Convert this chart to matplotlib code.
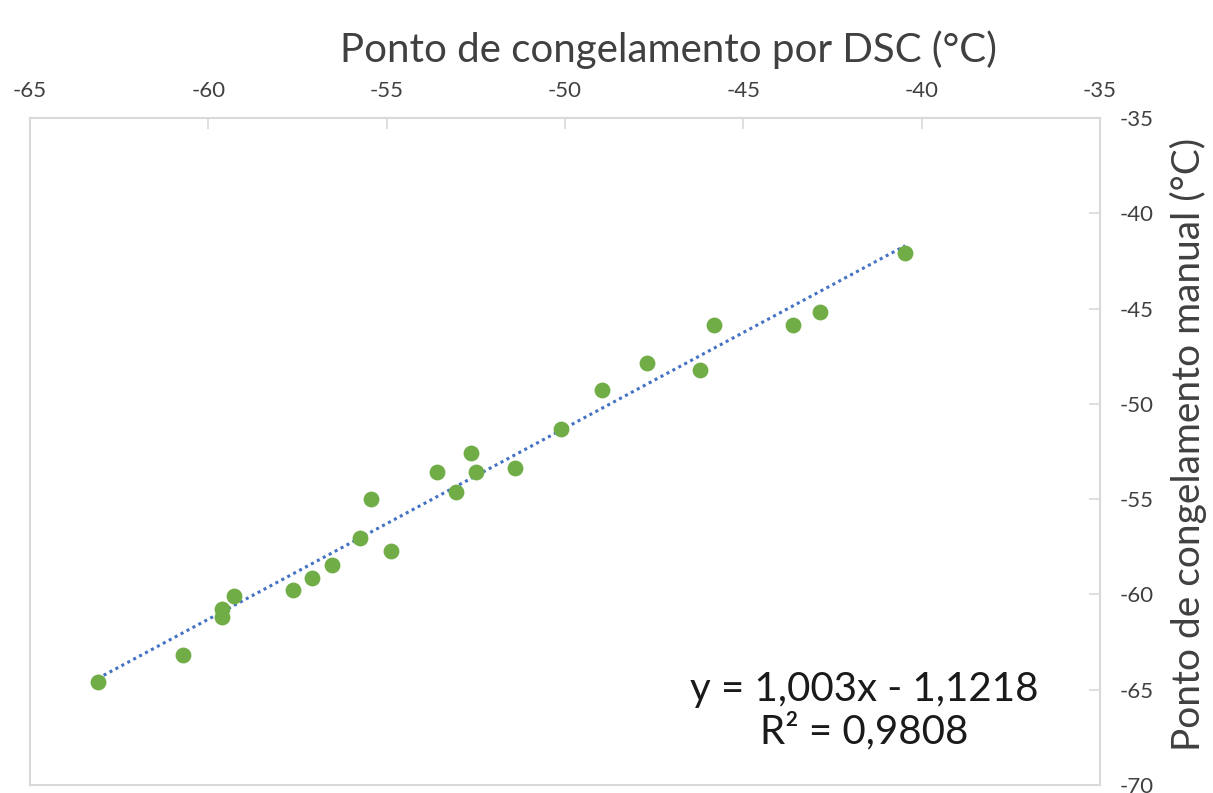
import matplotlib.pyplot as plt
import numpy as np

# dados (ponto de congelamento, °C)
dsc = [-63.10, -60.70, -59.61, -59.61, -59.27, -57.62, -57.08, -56.53,
       -55.76, -55.44, -54.88, -53.60, -53.05, -52.64, -52.49, -51.40,
       -50.11, -48.97, -47.71, -46.20, -45.82, -43.60, -42.85, -40.46]
manual = [-64.60, -63.20, -60.78, -61.20, -60.10, -59.76, -59.12, -58.47,
          -57.05, -55.00, -57.70, -53.60, -54.64, -52.58, -53.60, -53.36,
          -51.32, -49.27, -47.87, -48.24, -45.85, -45.85, -45.20, -42.10]
slope = 1.003
intercept = -1.1218
r2_text = 'R² = 0,9808'
eq_text = 'y = 1,003x - 1,1218'
xticks = [-65, -60, -55, -50, -45, -40, -35]
yticks = [-70, -65, -60, -55, -50, -45, -40, -35]

plt.rcParams['font.family'] = ['Lato', 'DejaVu Sans']
plt.rcParams['axes.unicode_minus'] = False

fig = plt.figure(figsize=(12.13, 7.93), dpi=100)
ax = fig.add_axes([0.0247, 0.0101, 0.8821, 0.8411])

ax.scatter(dsc, manual, s=130, color='#70AD47', zorder=3, linewidths=0)

# linha de tendência
xl = np.array([min(dsc), max(dsc)])
ax.plot(xl, slope * xl + intercept, linestyle=(0, (1, 1.2)), color='#4472C4',
        linewidth=2.2, zorder=2)

ax.set_xlim(-65, -35)
ax.set_ylim(-70, -35)
ax.set_xticks(xticks)
ax.set_yticks(yticks)
ax.xaxis.tick_top()
ax.yaxis.tick_right()
ax.xaxis.set_label_position('top')
ax.yaxis.set_label_position('right')

ax.tick_params(direction='in', length=8, width=1.2, color='#D9D9D9',
               labelsize=16, labelcolor='#404040')
ax.tick_params(axis='x', pad=12)
ax.tick_params(axis='y', pad=14)
for s in ax.spines.values():
    s.set_color('#D9D9D9')
    s.set_linewidth(1.5)

ax.set_xlabel('Ponto de congelamento por DSC (°C)', fontsize=29,
              color='#404040', labelpad=14, x=0.597)
ax.set_ylabel('Ponto de congelamento manual (°C)', fontsize=28,
              color='#404040', labelpad=12, y=0.51)

ax.text(-41.6, -66.1, eq_text + '\n' + r2_text, fontsize=29, ha='center',
        va='center', color='#1a1a1a', linespacing=1.15)

fig.savefig('out.png', dpi=100)
